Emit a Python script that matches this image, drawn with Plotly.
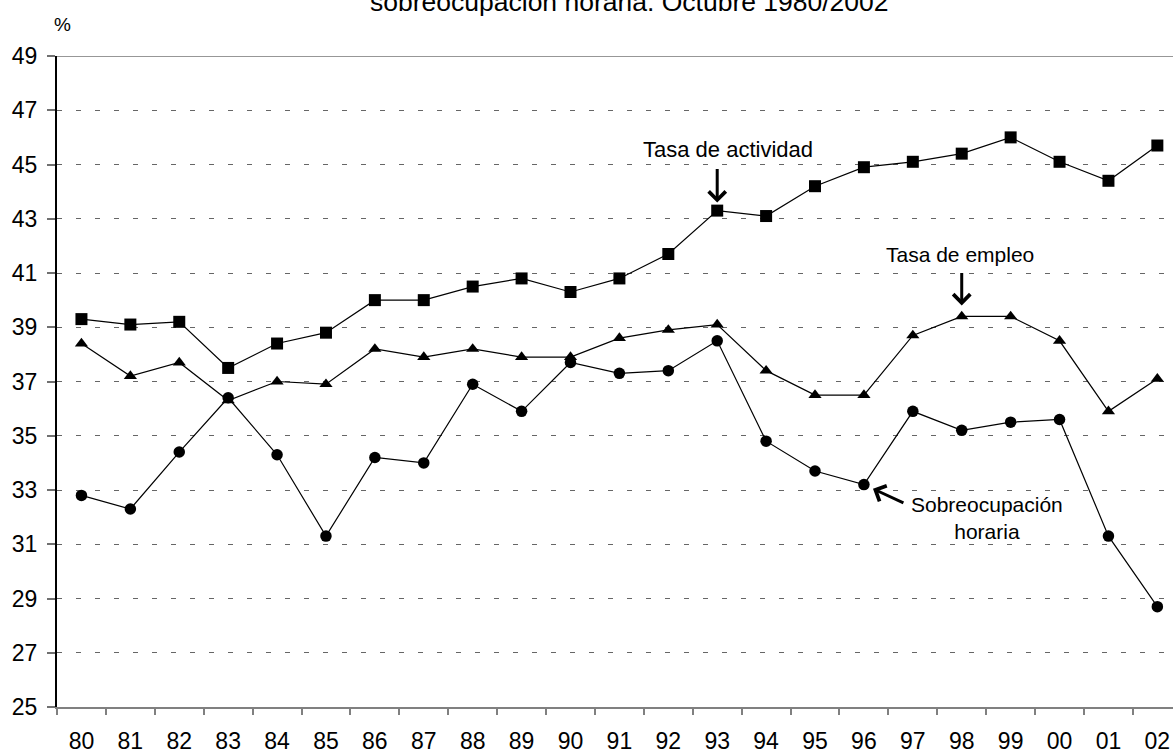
import plotly.graph_objects as go

years = ["80", "81", "82", "83", "84", "85", "86", "87", "88", "89", "90", "91",
         "92", "93", "94", "95", "96", "97", "98", "99", "00", "01", "02"]

tasa_actividad = [39.3, 39.1, 39.2, 37.5, 38.4, 38.8, 40.0, 40.0, 40.5, 40.8, 40.3, 40.8,
                  41.7, 43.3, 43.1, 44.2, 44.9, 45.1, 45.4, 46.0, 45.1, 44.4, 45.7]
tasa_empleo = [38.4, 37.2, 37.7, 36.3, 37.0, 36.9, 38.2, 37.9, 38.2, 37.9, 37.9, 38.6,
               38.9, 39.1, 37.4, 36.5, 36.5, 38.7, 39.4, 39.4, 38.5, 35.9, 37.1]
sobreocupacion = [32.8, 32.3, 34.4, 36.4, 34.3, 31.3, 34.2, 34.0, 36.9, 35.9, 37.7, 37.3,
                  37.4, 38.5, 34.8, 33.7, 33.2, 35.9, 35.2, 35.5, 35.6, 31.3, 28.7]

y_ticks = list(range(25, 50, 2))

W, H = 1173, 754
L, R, T, B = 57, 0, 56, 44
PW, PH = W - L - R, H - T - B
FONT = "Liberation Sans, Arial, sans-serif"


def px_x(px):
    return (px - L) / PW


def px_y(py):
    return (H - B - py) / PH


fig = go.Figure()

line_style = dict(color="black", width=1.2)
fig.add_trace(go.Scatter(x=years, y=tasa_actividad, mode="lines+markers",
                         line=line_style,
                         marker=dict(symbol="square", size=12, color="black"),
                         name="Tasa de actividad"))
fig.add_trace(go.Scatter(x=years, y=tasa_empleo, mode="lines+markers",
                         line=line_style,
                         marker=dict(symbol="triangle-up", size=11.5, color="black"),
                         name="Tasa de empleo"))
fig.add_trace(go.Scatter(x=years, y=sobreocupacion, mode="lines+markers",
                         line=line_style,
                         marker=dict(symbol="circle", size=11.5, color="black"),
                         name="Sobreocupación horaria"))

# top border line at 49
fig.add_shape(type="line", xref="paper", yref="y", x0=0, x1=1, y0=49, y1=49,
              line=dict(color="#303030", width=1), layer="below")

annotations = []
# title (partially cut at top)
annotations.append(dict(text="sobreocupación horaria. Octubre 1980/2002",
                        xref="paper", yref="paper", x=px_x(629), y=px_y(2),
                        xanchor="center", yanchor="middle", showarrow=False,
                        font=dict(size=26.5, color="black", family=FONT)))
annotations.append(dict(text="%", xref="paper", yref="paper", x=px_x(62), y=px_y(24),
                        xanchor="center", yanchor="middle", showarrow=False,
                        font=dict(size=19, color="black", family=FONT)))
# labels
annotations.append(dict(text="Tasa de actividad", xref="paper", yref="paper",
                        x=px_x(728), y=px_y(150), xanchor="center", yanchor="middle",
                        showarrow=False, font=dict(size=22, color="black", family=FONT)))
annotations.append(dict(text="Tasa de empleo", xref="paper", yref="paper",
                        x=px_x(960), y=px_y(255), xanchor="center", yanchor="middle",
                        showarrow=False, font=dict(size=21, color="black", family=FONT)))
annotations.append(dict(text="Sobreocupación<br>horaria", xref="paper", yref="paper",
                        x=px_x(987), y=px_y(520), xanchor="center", yanchor="middle",
                        showarrow=False, align="center",
                        font=dict(size=21, color="black", family=FONT)))
# arrows
arrow_common = dict(text="", showarrow=True, arrowhead=4, arrowwidth=3, arrowsize=1.1,
                    arrowcolor="black", axref="pixel", ayref="pixel")
annotations.append(dict(x=13, y=tasa_actividad[13], xref="x", yref="y",
                        ax=0, ay=-43, standoff=8, **arrow_common))
annotations.append(dict(x=18, y=tasa_empleo[18], xref="x", yref="y",
                        ax=0, ay=-45, standoff=11, **arrow_common))
annotations.append(dict(x=16, y=sobreocupacion[16], xref="x", yref="y",
                        ax=41, ay=19, standoff=10, **arrow_common))

fig.update_layout(
    width=W, height=H,
    margin=dict(l=L, r=R, t=T, b=B, pad=0),
    paper_bgcolor="white", plot_bgcolor="white",
    showlegend=False,
    font=dict(family=FONT, size=21, color="black"),
    annotations=annotations,
    xaxis=dict(type="category", categoryorder="array", categoryarray=years,
               range=[-0.5, 22.32], tickson="boundaries", ticks="outside",
               ticklen=6, tickwidth=1.5, tickcolor="#808080",
               showline=True, linecolor="#808080", linewidth=2,
               showgrid=False, zeroline=False, ticklabelstandoff=12,
               tickfont=dict(size=23, color="black", family=FONT)),
    yaxis=dict(range=[25, 49], tickmode="array", tickvals=y_ticks,
               ticktext=[str(v) for v in y_ticks],
               ticks="outside", ticklen=8, tickwidth=1.5, tickcolor="#707070",
               showline=True, linecolor="black", linewidth=2,
               showgrid=True, gridcolor="#666666", gridwidth=1,
               griddash="5px,14px", zeroline=False, ticklabelstandoff=5,
               tickfont=dict(size=23, color="black", family=FONT)),
)

fig.write_html("out.html",
               config={"displayModeBar": False},
               post_script="document.body.style.margin='0px';"
                           "document.body.style.padding='0px';"
                           "document.body.style.overflow='hidden';")
